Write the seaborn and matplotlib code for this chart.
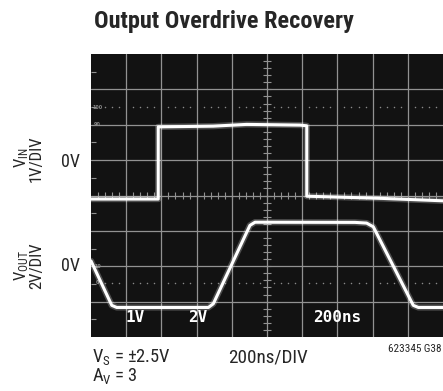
import numpy as np
import pandas as pd
import matplotlib
matplotlib.use("Agg")
import matplotlib.pyplot as plt
from matplotlib import font_manager
import seaborn as sns

# scope readings: time in ns, level in volts
vin_time = [0, 382, 382, 694, 884, 1188, 1226, 1226, 1642, 2000]
vin_volts = [-1.04, -1.04, 1.00, 1.02, 1.07, 1.05, 1.03, -0.96, -1.02, -1.09]

vout_time = [0, 118, 146, 667, 695, 903, 932, 1500, 1566, 1604, 1831, 1860, 2000]
vout_volts = [0.30, -2.21, -2.33, -2.33, -2.12, 2.31, 2.49, 2.48, 2.44, 2.23, -2.21, -2.33, -2.33]

# screen settings
ns_per_div = 200
vin_per_div = 1
vout_per_div = 2
vin_zero_div = 4.94
vout_zero_div = 2.0

screen_labels = ["1V", "2V", "200ns"]
screen_label_x = [1.25, 3.04, 6.99]

sns.set_style("white")
names = {f.name for f in font_manager.fontManager.ttflist}
label_font = "Roboto"
for cand in ["Liberation Sans Narrow", "Roboto Condensed", "Roboto"]:
    if cand in names:
        label_font = cand
        break
plt.rcParams["font.family"] = [label_font, "DejaVu Sans"]
plt.rcParams["mathtext.fontset"] = "custom"
plt.rcParams["mathtext.rm"] = label_font
plt.rcParams["mathtext.it"] = label_font
plt.rcParams["mathtext.bf"] = label_font + ":bold"

# convert to screen divisions
vin = pd.DataFrame({"x": np.array(vin_time) / ns_per_div,
                    "y": vin_zero_div + np.array(vin_volts) / vin_per_div})
vout = pd.DataFrame({"x": np.array(vout_time) / ns_per_div,
                     "y": vout_zero_div + np.array(vout_volts) / vout_per_div})

fig = plt.figure(figsize=(4.43, 3.91), dpi=100)
ax = fig.add_axes([91 / 443, 54 / 391, 352 / 443, 283 / 391])
ax.set_facecolor("#121212")
ax.set_xlim(0, 10)
ax.set_ylim(0, 8)
ax.set_xticks([])
ax.set_yticks([])
for s in ax.spines.values():
    s.set_visible(False)

grid_col = "#929292"
for gx in range(1, 10):
    ax.axvline(gx, color=grid_col, lw=0.9, zorder=1)
for gy in range(1, 8):
    ax.axhline(gy, color=grid_col, lw=0.9, zorder=1)

# minor ticks on the centre cross and left edge
minor = np.arange(0.2, 10, 0.2)
ax.vlines(minor, 3.9, 4.1, color=grid_col, lw=0.8, zorder=1)
minor_y = np.arange(0.2, 8, 0.2)
ax.hlines(minor_y, 4.9, 5.1, color=grid_col, lw=0.8, zorder=1)
ax.hlines(np.arange(0.5, 8, 1.0), 0, 0.15, color=grid_col, lw=0.8, zorder=1)

# 0% / 100% dotted lines
dots = np.array([d for d in np.arange(0.4, 10, 0.2) if abs(d - round(d)) > 0.05])
for dy in [6.5, 1.53]:
    ax.scatter(dots, np.full(len(dots), dy), s=1.2, color="#8a8a8a", zorder=1, linewidths=0)
for txt, ty in [("100", 6.5), ("90", 6.0), ("10", 2.0), ("0", 1.53)]:
    ax.text(0.18, ty, txt, fontsize=3.5, color="#8a8a8a", ha="center", va="center",
            family="DejaVu Sans", fontweight="bold")

# traces with a faint glow
for trace in [vin, vout]:
    sns.lineplot(data=trace, x="x", y="y", sort=False, estimator=None, ax=ax,
                 color="white", lw=4.5, alpha=0.25, zorder=3)
    sns.lineplot(data=trace, x="x", y="y", sort=False, estimator=None, ax=ax,
                 color="white", lw=2.2, zorder=4)
ax.set_xlabel("")
ax.set_ylabel("")

for txt, tx in zip(screen_labels, screen_label_x):
    ax.text(tx, 0.54, txt, color="white", fontsize=11.5, fontweight="bold",
            family="DejaVu Sans Mono", ha="center", va="center", zorder=5)

# figure texts
fig.text(224 / 443, 1 - 28 / 391, "Output Overdrive Recovery", fontsize=17.5,
         fontweight="bold", ha="center", va="baseline")

for lab, yc in [(r"V$_{\mathrm{IN}}$", 158), (r"V$_{\mathrm{OUT}}$", 266)]:
    fig.text(26 / 443, 1 - yc / 391, lab, fontsize=12, rotation=90,
             rotation_mode="anchor", ha="center", va="baseline")
for lab, yc in [("1V/DIV", 159), ("2V/DIV", 266)]:
    fig.text(41 / 443, 1 - yc / 391, lab, fontsize=12, rotation=90,
             rotation_mode="anchor", ha="center", va="baseline")
for yc in [162, 266]:
    fig.text(71 / 443, 1 - yc / 391, "0V", fontsize=13, ha="center", va="center")

fig.text(92 / 443, 1 - 362 / 391, r"V$_{\mathrm{S}}$ = ±2.5V", fontsize=13.3, ha="left", va="baseline")
fig.text(92 / 443, 1 - 381 / 391, r"A$_{\mathrm{V}}$ = 3", fontsize=13.3, ha="left", va="baseline")
fig.text(228 / 443, 1 - 362 / 391, "200ns/DIV", fontsize=13.8, ha="left", va="baseline")
fig.text(442 / 443, 1 - 352 / 391, "623345 G38", fontsize=8, ha="right", va="baseline")

fig.savefig("out.png", dpi=100, facecolor="white")
